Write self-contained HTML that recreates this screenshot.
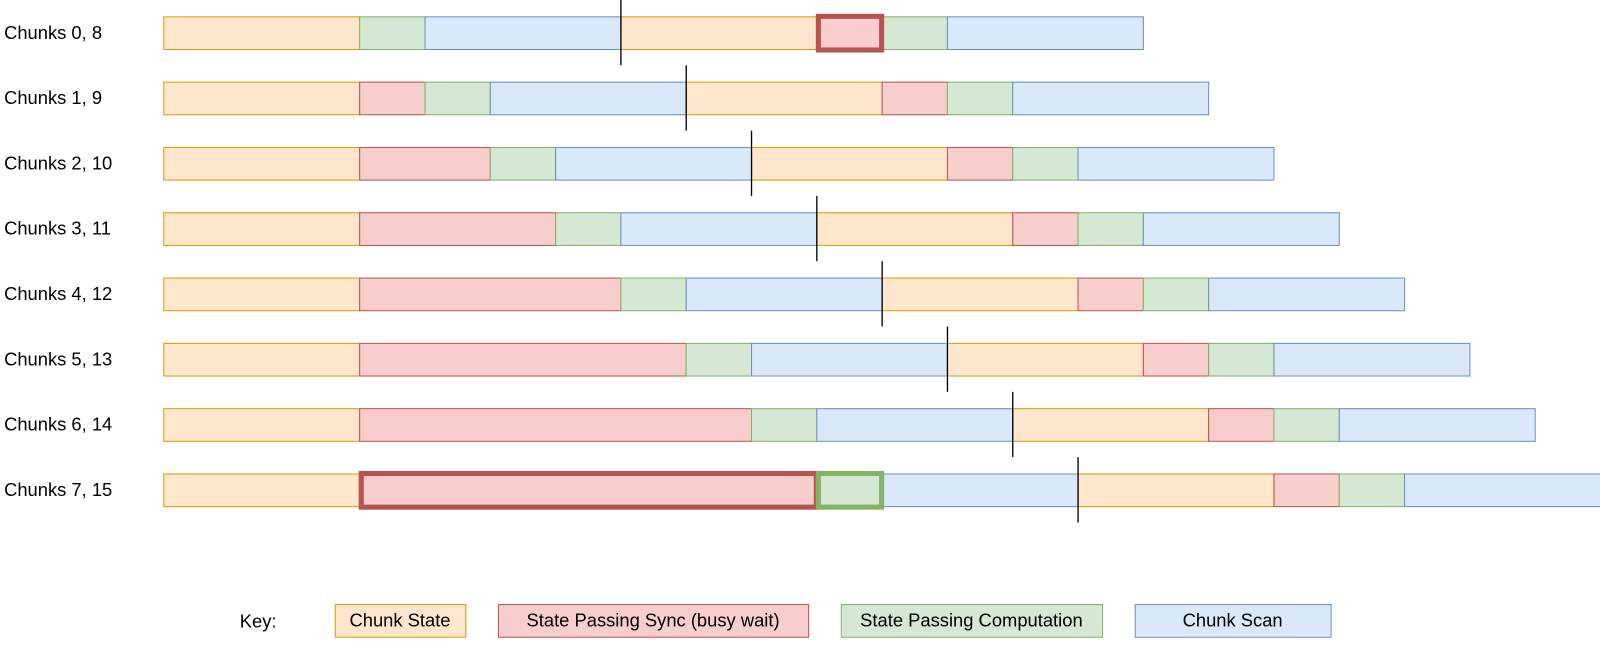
<!DOCTYPE html>
<html><head><meta charset="utf-8"><style>
html,body{margin:0;padding:0;background:#fff;overflow:hidden;width:1600px;height:654px;}
svg{display:block;}
svg text{font-family:"Liberation Sans",Arial,sans-serif;font-size:18px;fill:#000;}
</style></head><body>
<svg width="1600" height="654" viewBox="0 0 1600 654" xmlns="http://www.w3.org/2000/svg">
<g id="rows" transform="scale(1.0204)"></g>
</svg>
<script>
const C={o:["#ffe6cc","#d79b00"],r:["#f8cecc","#b85450"],g:["#d5e8d4","#82b366"],b:["#dae8fc","#6c8ebf"]};
let s='';
const labels=["Chunks 0, 8","Chunks 1, 9","Chunks 2, 10","Chunks 3, 11","Chunks 4, 12","Chunks 5, 13","Chunks 6, 14","Chunks 7, 15"];
function rect(x,y,w,h,c,sw){return `<rect x="${x+0.5}" y="${y+0.5}" width="${w}" height="${h}" fill="${C[c][0]}" stroke="${C[c][1]}" stroke-width="${sw||1}"/>`;}
for(let i=0;i<8;i++){
 const y=16+64*i;
 s+=`<text x="4" y="${y+22}">${labels[i]}</text>`;
 let segs=[["o",192]];
 if(i>0)segs.push(["r",64*i]);
 segs.push(["g",64],["b",192],["o",192],["r",64],["g",64],["b",192]);
 if(i==0){segs=[["o",192],["g",64],["b",192],["o",192],["r",64],["g",64],["b",192]];}
 let x=160,lineX=0,blueCount=0,thick=[];
 for(const [c,w] of segs){
  const th=(i==0&&c=="r")||(i==7&&(x==352||x==352+448&&c=="g"));
  if(th)thick.push([x,y,w,c]);else s+=rect(x,y,w,32,c);
  x+=w;
  if(c=="b"&&blueCount++==0)lineX=x;
 }
 for(const [tx,ty,w,c] of thick) s+=`<rect x="${tx+2}" y="${ty}" width="${w-2}" height="33" fill="${C[c][0]}" stroke="${C[c][1]}" stroke-width="5"/>`;
 s+=`<line x1="${lineX+0.5}" y1="${y-16}" x2="${lineX+0.5}" y2="${y+48}" stroke="#000" stroke-width="1.3"/>`;
}
s+=`<text x="235" y="615">Key:</text>`;
const keys=[[328,128,"o","Chunk State"],[488,304,"r","State Passing Sync (busy wait)"],[824,256,"g","State Passing Computation"],[1112,192,"b","Chunk Scan"]];
for(const [x,w,c,t] of keys){s+=rect(x,592,w,32,c);s+=`<text x="${x+w/2}" y="614" text-anchor="middle">${t}</text>`;}
document.getElementById('rows').innerHTML=s;
</script>
</body></html>
